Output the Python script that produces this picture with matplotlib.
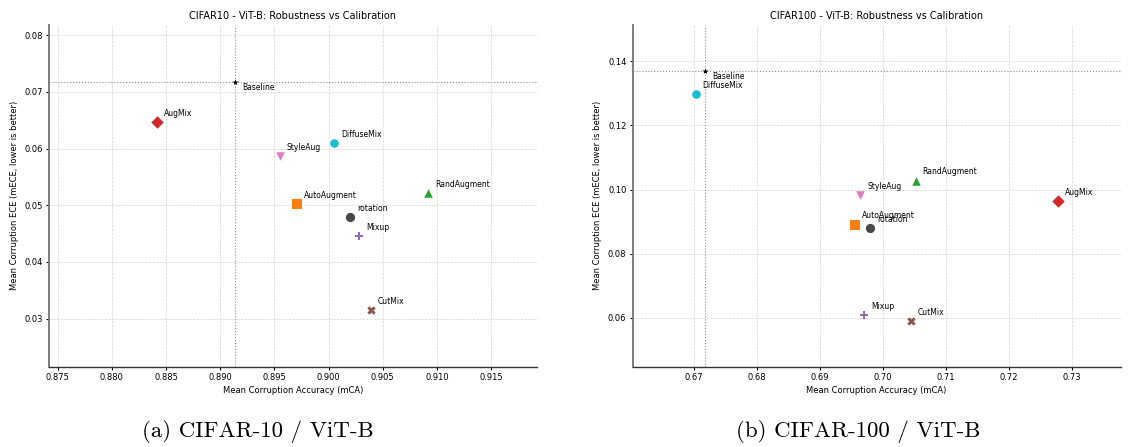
import matplotlib
matplotlib.use("Agg")
import matplotlib.pyplot as plt

# mCA / mECE per augmentation method, ViT-B
methods = ["Baseline", "AugMix", "DiffuseMix", "StyleAug", "RandAugment",
           "AutoAugment", "rotation", "Mixup", "CutMix"]

cifar10_mca = [0.8914, 0.8842, 0.9005, 0.8955, 0.9092, 0.8971, 0.9020, 0.9028, 0.9039]
cifar10_mece = [0.0718, 0.0646, 0.0609, 0.0586, 0.0521, 0.0502, 0.0479, 0.0445, 0.0315]

cifar100_mca = [0.6718, 0.7277, 0.6703, 0.6964, 0.7052, 0.6955, 0.6980, 0.6970, 0.7044]
cifar100_mece = [0.1371, 0.0963, 0.1297, 0.0982, 0.1028, 0.0891, 0.0879, 0.0608, 0.0590]

style = {
    "Baseline":    dict(marker="*", color="black", s=22),
    "AugMix":      dict(marker="D", color="#d62728", s=40),
    "DiffuseMix":  dict(marker="o", color="#17becf", s=38),
    "StyleAug":    dict(marker="v", color="#e377c2", s=38),
    "RandAugment": dict(marker="^", color="#2ca02c", s=38),
    "AutoAugment": dict(marker="s", color="#ff7f0e", s=44),
    "rotation":    dict(marker="o", color="#474747", s=44),
    "Mixup":       dict(marker="P", color="#9467bd", s=40),
    "CutMix":      dict(marker="X", color="#8c564b", s=36),
}


def scatter_panel(ax, mca, mece, title, ypad):
    for name, x, y in zip(methods, mca, mece):
        st = style[name]
        ax.scatter(x, y, marker=st["marker"], color=st["color"], s=st["s"],
                   linewidths=0, zorder=3)
        if name == "Baseline":
            ax.annotate(name, (x, y), xytext=(5, -1), textcoords="offset points",
                        fontsize=5.5, ha="left", va="top")
        else:
            ax.annotate(name, (x, y), xytext=(5, 3), textcoords="offset points",
                        fontsize=5.5, ha="left", va="bottom")

    # baseline reference lines
    ax.axvline(mca[0], color="0.55", ls=":", lw=0.8, zorder=1)
    ax.axhline(mece[0], color="0.55", ls=":", lw=0.8, zorder=1)

    ax.set_xlim(min(mca) - 0.01, max(mca) + 0.01)
    ax.set_ylim(min(mece) - ypad, max(mece) + ypad)
    ax.grid(True, ls="--", lw=0.5, color="0.83")
    ax.set_axisbelow(True)
    ax.set_title(title, fontsize=7, pad=4)
    ax.set_xlabel("Mean Corruption Accuracy (mCA)", fontsize=6, labelpad=3)
    ax.set_ylabel("Mean Corruption ECE (mECE, lower is better)", fontsize=6, labelpad=4)
    ax.tick_params(labelsize=6, length=2.5, width=0.8, pad=2)
    ax.spines["top"].set_visible(False)
    ax.spines["right"].set_visible(False)
    ax.spines["left"].set_color("0.45")
    ax.spines["left"].set_linewidth(1.3)
    ax.spines["bottom"].set_color("0.2")
    ax.spines["bottom"].set_linewidth(1.0)


fig = plt.figure(figsize=(11.28, 4.47), dpi=100)
ax1 = fig.add_axes([0.0434, 0.1797, 0.4324, 0.7644])
ax2 = fig.add_axes([0.5609, 0.1797, 0.4326, 0.7644])

scatter_panel(ax1, cifar10_mca, cifar10_mece,
              "CIFAR10 - ViT-B: Robustness vs Calibration", 0.01)
scatter_panel(ax2, cifar100_mca, cifar100_mece,
              "CIFAR100 - ViT-B: Robustness vs Calibration", 0.0142)
ax1.set_xticks([0.875, 0.880, 0.885, 0.890, 0.895, 0.900, 0.905, 0.910, 0.915])
ax1.set_yticks([0.03, 0.04, 0.05, 0.06, 0.07, 0.08])
ax2.set_yticks([0.06, 0.08, 0.10, 0.12, 0.14])

fig.text(0.229, 0.035, "(a) CIFAR-10 / ViT-B", family="cmr10", fontsize=16.5,
         ha="center", va="center")
fig.text(0.761, 0.035, "(b) CIFAR-100 / ViT-B", family="cmr10", fontsize=16.5,
         ha="center", va="center")

fig.savefig("out.png", dpi=100)
